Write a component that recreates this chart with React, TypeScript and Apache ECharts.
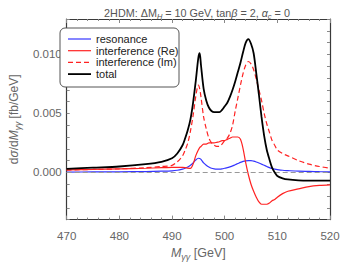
import React, { useEffect, useRef } from "react";
import * as echarts from "echarts";

const masses = [470, 475, 480, 485, 488, 490, 491, 492, 492.5, 493, 493.5, 494, 494.5, 495, 495.25, 495.5, 496, 496.5, 497, 497.5, 498, 498.5, 499, 499.5, 500, 500.5, 501, 501.5, 502, 502.5, 503, 503.5, 504, 504.5, 505, 505.5, 506, 506.5, 507, 507.5, 508, 508.5, 509, 509.5, 510, 511, 512, 514, 516, 518, 520];

const resonance = [0.00003, 0.00004, 0.00005, 0.00007, 0.0001, 0.00013, 0.00018, 0.00028, 0.00035, 0.00045, 0.0006, 0.0008, 0.00105, 0.0012, 0.00118, 0.0011, 0.0008, 0.0006, 0.00045, 0.00035, 0.0003, 0.00028, 0.00028, 0.0003, 0.00035, 0.0004, 0.00047, 0.00055, 0.00065, 0.00075, 0.00085, 0.00093, 0.00098, 0.001, 0.001, 0.00095, 0.00088, 0.0008, 0.0007, 0.0006, 0.0005, 0.0004, 0.00033, 0.00028, 0.00024, 0.00018, 0.00015, 0.0001, 0.00008, 0.00006, 0.00005];

const interfRe = [0.00022, 0.00025, 0.0003, 0.00035, 0.0004, 0.00042, 0.00043, 0.00042, 0.0004, 0.00036, 0.00034, 0.0007, 0.0014, 0.0019, 0.0021, 0.0022, 0.0024, 0.0024, 0.0025, 0.0025, 0.0025, 0.00255, 0.0026, 0.0027, 0.0027, 0.0028, 0.0029, 0.003, 0.003, 0.003, 0.0028, 0.002, 0.0008, -0.0002, -0.001, -0.0016, -0.0021, -0.0025, -0.0027, -0.0027, -0.0027, -0.0026, -0.0024, -0.0023, -0.0021, -0.0018, -0.0016, -0.0014, -0.0012, -0.0011, -0.00105];

const interfIm = [0.0002, 0.00025, 0.0003, 0.0004, 0.0005, 0.0006, 0.0009, 0.0014, 0.0019, 0.0025, 0.0035, 0.0048, 0.0064, 0.0074, 0.0071, 0.0064, 0.0047, 0.0037, 0.0029, 0.0025, 0.0023, 0.0022, 0.0022, 0.0024, 0.0027, 0.0029, 0.0033, 0.004, 0.0052, 0.0063, 0.0074, 0.0084, 0.0091, 0.0094, 0.0092, 0.0087, 0.0079, 0.007, 0.0061, 0.005, 0.0041, 0.0034, 0.0027, 0.0023, 0.0019, 0.0016, 0.0014, 0.001, 0.0007, 0.0005, 0.00036];

const total = [0.0003, 0.0004, 0.0005, 0.0007, 0.0009, 0.0012, 0.0016, 0.0023, 0.0029, 0.0036, 0.0045, 0.0059, 0.0077, 0.0097, 0.0101, 0.0091, 0.0071, 0.0061, 0.0055, 0.0052, 0.0051, 0.0051, 0.0051, 0.0053, 0.0056, 0.0059, 0.0064, 0.007, 0.0077, 0.0085, 0.0093, 0.0102, 0.011, 0.0113, 0.0109, 0.0101, 0.0084, 0.0066, 0.0047, 0.0031, 0.0019, 0.0011, 0.0004, 0.0, -0.0003, -0.0005, -0.0006, -0.00068, -0.0007, -0.0007, -0.0007];

const yLabelled = [0, 0.005, 0.01];

const seriesNames = ["resonance", "interference (Re)", "interference (Im)", "total"];
const seriesColors = ["#3535ff", "#ff2222", "#ff2222", "#000000"];
const seriesDash: (number[] | "solid")[] = ["solid", "solid", [5, 3], "solid"];
const seriesWidths = [1.2, 1.2, 1.2, 1.8];

const FONT = "Liberation Sans";

export default function App() {
  const ref = useRef<HTMLDivElement>(null);
  useEffect(() => {
    if (!ref.current) return;
    const chart = echarts.init(ref.current, null, { renderer: "svg" });
    const pts = (arr: number[]) => masses.map((m, i) => [m, arr[i]]);
    const axisCol = "#3a3a3a";
    const labelCol = "#666";
    const xBase = {
      type: "value" as const,
      min: 470,
      max: 520,
      interval: 10,
      axisLine: { show: true, onZero: false, lineStyle: { color: axisCol, width: 1.2 } },
      axisTick: { show: true, inside: true, length: 4, lineStyle: { color: "#888" } },
      minorTick: { show: true, splitNumber: 5, length: 2, lineStyle: { color: "#888" } },
      splitLine: { show: false },
    };
    const yBase = {
      type: "value" as const,
      min: -0.004,
      max: 0.013,
      interval: 0.001,
      axisLine: { show: true, onZero: false, lineStyle: { color: axisCol, width: 1.2 } },
      axisTick: { show: true, inside: true, length: 3, lineStyle: { color: "#888" } },
      splitLine: { show: false },
    };
    const datasets = [resonance, interfRe, interfIm, total];

    const legendX = 60;
    const legendY = 28;
    const legendRowGap = 11.7;
    const legendElements: any[] = [
      {
        type: "rect",
        shape: { x: legendX, y: legendY, width: 119, height: 59, r: 5 },
        style: { fill: "#fff", stroke: "#555", lineWidth: 1 },
        z: 100,
      },
    ];
    seriesNames.forEach((name, i) => {
      const cy = legendY + 11 + i * legendRowGap;
      legendElements.push({
        type: "line",
        shape: { x1: legendX + 8, y1: cy, x2: legendX + 31, y2: cy },
        style: {
          stroke: seriesColors[i],
          lineWidth: seriesWidths[i],
          lineDash: seriesDash[i] === "solid" ? null : seriesDash[i],
        },
        z: 101,
      });
      legendElements.push({
        type: "text",
        x: legendX + 36,
        y: cy,
        style: {
          text: name,
          fontFamily: FONT,
          fontSize: 11,
          fill: "#222",
          verticalAlign: "middle",
          align: "left",
        },
        z: 101,
      });
    });

    chart.setOption({
      animation: false,
      title: {
        text: "2HDM: ΔM{sub|H} = 10 GeV, tan{i|β} = 2, {i|α}{sub|c} = 0",
        left: 192,
        textAlign: "center",
        top: 1,
        textStyle: {
          fontFamily: FONT,
          fontSize: 10.8,
          fontWeight: "normal",
          color: "#555",
          rich: {
            sub: { fontSize: 7.5, fontStyle: "italic", color: "#555", fontFamily: FONT, padding: [6, 0, 0, 0] },
            i: { fontSize: 10.8, fontStyle: "italic", color: "#555", fontFamily: FONT },
          },
        },
      },
      graphic: legendElements,
      grid: { left: 54, right: 20, top: 19, bottom: 40, containLabel: false },
      xAxis: [
        {
          ...xBase,
          position: "bottom",
          axisLabel: { show: true, fontFamily: FONT, fontSize: 11.5, color: labelCol, margin: 10 },
          name: "{i|M}{s|γγ} [GeV]",
          nameLocation: "middle",
          nameGap: 25,
          nameTextStyle: {
            fontFamily: FONT,
            fontSize: 12.5,
            color: labelCol,
            rich: {
              i: { fontFamily: FONT, fontSize: 12.5, fontStyle: "italic", color: labelCol },
              s: { fontFamily: FONT, fontSize: 9, fontStyle: "italic", color: labelCol, padding: [7, 0, 0, 0] },
            },
          },
        },
        { ...xBase, position: "top", axisLabel: { show: false } },
      ],
      yAxis: [
        {
          ...yBase,
          position: "left",
          axisLabel: {
            show: true,
            fontFamily: FONT,
            fontSize: 11.5,
            color: labelCol,
            margin: 5,
            formatter: (v: number) =>
              yLabelled.some((t) => Math.abs(t - v) < 1e-9) ? v.toFixed(3) : "",
          },
          name: "d{i|σ}/d{i|M}{s|γγ} [fb/GeV]",
          nameLocation: "middle",
          nameGap: 40,
          nameTextStyle: {
            fontFamily: FONT,
            fontSize: 12,
            color: labelCol,
            rich: {
              i: { fontFamily: FONT, fontSize: 12, fontStyle: "italic", color: labelCol },
              s: { fontFamily: FONT, fontSize: 8.5, fontStyle: "italic", color: labelCol, padding: [7, 0, 0, 0] },
            },
          },
        },
        { ...yBase, position: "right", axisLabel: { show: false } },
      ],
      series: datasets.map((arr, i) => ({
        name: seriesNames[i],
        type: "line",
        data: pts(arr),
        smooth: 0.3,
        showSymbol: false,
        symbol: "none",
        color: seriesColors[i],
        lineStyle: { color: seriesColors[i], width: seriesWidths[i], type: seriesDash[i] },
        z: 3 + i,
        ...(i === 0
          ? {
              markLine: {
                silent: true,
                symbol: "none",
                label: { show: false },
                lineStyle: { color: "#999", type: [5, 3], width: 1 },
                data: [{ yAxis: 0 }],
              },
            }
          : {}),
      })),
    });
    return () => chart.dispose();
  }, []);
  return (
    <div
      ref={ref}
      style={{ position: "fixed", left: 0, top: 0, width: 350, height: 266, background: "#fff" }}
    />
  );
}
